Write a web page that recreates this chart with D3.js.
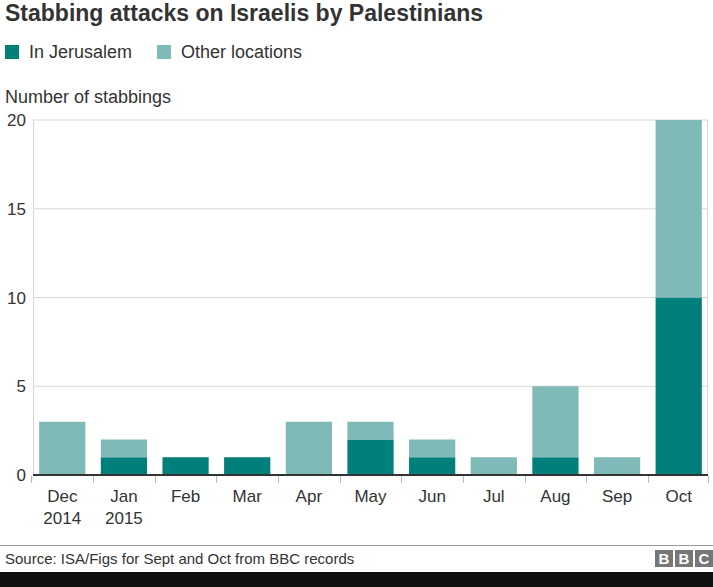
<!DOCTYPE html>
<html><head><meta charset="utf-8">
<script src="https://cdn.jsdelivr.net/npm/d3@7"></script>
<style>
body{margin:0;background:#fff;}
svg{display:block;font-family:"Liberation Sans",Arial,Helvetica,sans-serif;}
</style></head>
<body>
<script>
const months = ["Dec|2014","Jan|2015","Feb","Mar","Apr","May","Jun","Jul","Aug","Sep","Oct"];
const jerusalem = [0,1,1,1,0,2,1,0,1,0,10];
const otherLocations = [3,1,0,0,3,1,1,1,4,1,10];
const yTicks = [0,5,10,15,20];
const seriesNames = ["In Jerusalem","Other locations"];
const colors = ["#007f7b","#7fbab8"];

const W=713,H=587;
const svg=d3.select("body").append("svg").attr("width",W).attr("height",H);
const textCol="#333";

svg.append("text").attr("x",5).attr("y",21).attr("font-size",23).attr("font-weight","bold").attr("fill",textCol)
  .text("Stabbing attacks on Israelis by Palestinians");

// legend
const leg=[{x:5},{x:157}];
seriesNames.forEach((n,i)=>{
  svg.append("rect").attr("x",leg[i].x).attr("y",45).attr("width",14).attr("height",14).attr("fill",colors[i]);
  svg.append("text").attr("x",leg[i].x+24).attr("y",58).attr("font-size",18).attr("fill",textCol).text(n);
});

svg.append("text").attr("x",5).attr("y",103).attr("font-size",18).attr("fill",textCol).text("Number of stabbings");

const x=d3.scaleBand().domain(months).range([33,708]).paddingInner(0.25).paddingOuter(0.1);
const y=d3.scaleLinear().domain([0,20]).range([475,120]);

// gridlines
svg.append("g").selectAll("line").data(yTicks.filter(d=>d>0)).join("line")
  .attr("x1",33).attr("x2",708).attr("y1",d=>y(d)).attr("y2",d=>y(d))
  .attr("stroke","#d6d6d6").attr("stroke-width",1);
svg.append("line").attr("x1",33.5).attr("x2",33.5).attr("y1",120).attr("y2",475).attr("stroke","#d6d6d6");
svg.append("line").attr("x1",707.5).attr("x2",707.5).attr("y1",120).attr("y2",475).attr("stroke","#d6d6d6");

// y labels
svg.append("g").selectAll("text").data(yTicks).join("text")
  .attr("x",26).attr("y",d=>y(d)+6).attr("text-anchor","end").attr("font-size",17).attr("fill",textCol).text(d=>d);

// bars
const data=months.map((m,i)=>({m,j:jerusalem[i],o:otherLocations[i]}));
const stack=d3.stack().keys(["j","o"])(data);
svg.append("g").selectAll("g").data(stack).join("g").attr("fill",(d,i)=>colors[i])
  .selectAll("rect").data(d=>d).join("rect")
  .attr("x",d=>x(d.data.m)).attr("width",x.bandwidth())
  .attr("y",d=>y(d[1])).attr("height",d=>y(d[0])-y(d[1]));

// x axis
svg.append("line").attr("x1",33).attr("x2",708).attr("y1",475).attr("y2",475).attr("stroke","#333").attr("stroke-width",2);
const tickPos=months.map(m=>x(m)-x.step()*x.paddingInner()/2);
tickPos.push(708);
svg.append("g").selectAll("line").data(tickPos).join("line")
  .attr("x1",d=>Math.round(d)+0.5).attr("x2",d=>Math.round(d)+0.5).attr("y1",476).attr("y2",483)
  .attr("stroke","#bbb");
const xl=svg.append("g").selectAll("text").data(months).join("text")
  .attr("text-anchor","middle").attr("font-size",17).attr("fill",textCol);
xl.each(function(m){
  const parts=m.split("|");
  const t=d3.select(this);
  parts.forEach((p,k)=>t.append("tspan").attr("x",x(m)+x.bandwidth()/2).attr("y",502+k*22).text(p));
});

// footer
svg.append("line").attr("x1",0).attr("x2",W).attr("y1",545.5).attr("y2",545.5).attr("stroke","#999");
svg.append("text").attr("x",5).attr("y",564).attr("font-size",15).attr("fill",textCol).text("Source: ISA/Figs for Sept and Oct from BBC records");
["B","B","C"].forEach((c,i)=>{
  const bx=655+i*20;
  svg.append("rect").attr("x",bx).attr("y",550).attr("width",18).attr("height",17).attr("fill","#777");
  svg.append("text").attr("x",bx+9).attr("y",564).attr("text-anchor","middle").attr("font-size",15).attr("font-weight","bold").attr("fill","#fff").text(c);
});
svg.append("rect").attr("x",0).attr("y",572).attr("width",W).attr("height",15).attr("fill","#111");
</script>
</body></html>
